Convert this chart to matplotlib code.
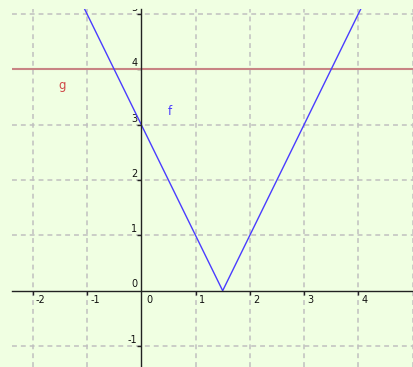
import matplotlib
matplotlib.use("Agg")
import matplotlib.pyplot as plt
import numpy as np

# data
f_x = [-2.5, 1.5, 5.0]
f_y = [abs(2 * x - 3) for x in f_x]
g_value = 4
x_ticks = [-2, -1, 0, 1, 2, 3, 4]
y_ticks = [-1, 0, 1, 2, 3, 4, 5]
x_grid = [-2, -1, 1, 2, 3, 4, 5]
y_grid = [-1, 1, 2, 3, 4, 5]
f_label_pos = (0.48, 3.24)
g_label_pos = (-1.52, 3.70)

W, H, DPI = 413, 367, 100
bg = "#f0ffe2"
fig = plt.figure(figsize=(W / DPI, H / DPI), dpi=DPI, facecolor=bg)
ax = fig.add_axes([12 / W, 0, (W - 12) / W, (H - 9) / H], facecolor=bg)
ax.set_xlim(-2.383, 5.008)
ax.set_ylim(-1.378, 5.09)

for xv in x_grid:
    ax.axvline(xv, color="#c0c0c0", lw=1.1, ls=(0, (3.2, 2.6)), zorder=1)
for yv in y_grid:
    ax.axhline(yv, color="#c0c0c0", lw=1.1, ls=(0, (3.2, 2.6)), zorder=1)

ax.plot(f_x, f_y, color="#4a3cff", lw=1.0, zorder=4)
ax.axhline(g_value, color="#c88484", lw=1.5, zorder=3)

for s in ["top", "right"]:
    ax.spines[s].set_visible(False)
ax.spines["left"].set_position(("data", 0))
ax.spines["bottom"].set_position(("data", 0))
for s in ["left", "bottom"]:
    ax.spines[s].set_color("#222222")
    ax.spines[s].set_linewidth(1.0)
    ax.spines[s].set_zorder(5)

ax.set_xticks([t for t in x_ticks if t != 0])
ax.set_yticks([t for t in y_ticks if t != 0])
ax.tick_params(axis="x", direction="out", length=3, width=1, color="#222222", labelbottom=False)
ax.tick_params(axis="y", direction="out", length=3, width=1, color="#222222", labelleft=False)

fs = 7
texts = []
for t in x_ticks:
    if t == 0:
        continue
    texts.append(ax.annotate(str(t), (t, 0), xytext=(3, -9.5), textcoords="offset pixels",
                             ha="left", va="center", fontsize=fs, color="#111111"))
for t in y_ticks:
    if t == 0:
        continue
    texts.append(ax.annotate(str(t), (0, t), xytext=(-4, 6), textcoords="offset pixels",
                             ha="right", va="center", fontsize=fs, color="#111111",
                             annotation_clip=False))
texts.append(ax.annotate("0", (0, 0), xytext=(-4, 6.5), textcoords="offset pixels",
                         ha="right", va="center", fontsize=fs, color="#111111"))
texts.append(ax.annotate("0", (0, 0), xytext=(5, -9.5), textcoords="offset pixels",
                         ha="left", va="center", fontsize=fs, color="#111111"))
for t in texts:
    t.set_clip_on(True)
    t.set_clip_box(ax.bbox)

ax.text(f_label_pos[0], f_label_pos[1], "f", color="#4a3cff", fontsize=8.5, ha="left", va="center")
ax.text(g_label_pos[0], g_label_pos[1], "g", color="#d04848", fontsize=8.5, ha="left", va="center")

fig.savefig("out.png", dpi=DPI, facecolor=bg)
